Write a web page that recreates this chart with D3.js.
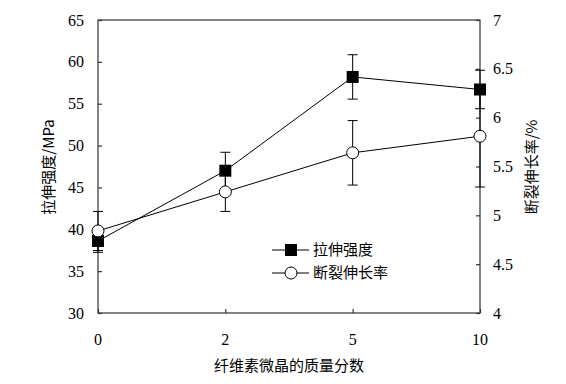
<!DOCTYPE html>
<meta charset="utf-8">
<style>
body, html { margin: 0; background: #fff; }
svg text.num { font-family: "Liberation Serif", "DejaVu Serif", serif; fill: #000; }
svg text.cjk { font-family: "Noto Sans CJK SC", sans-serif; fill: #000; }
</style>
<svg></svg>
<script src="https://d3js.org/d3.v7.min.js"></script>
<script>

var categories = ['0', '2', '5', '10'];
var strength = [38.6, 47.0, 58.2, 56.7];
var strengthErr = [1.35, 2.2, 2.65, 2.3];
var elongation = [4.84, 5.24, 5.64, 5.81];
var elongationErr = [0.2, 0.2, 0.33, 0.52];
var leftTicks = [30, 35, 40, 45, 50, 55, 60, 65];
var rightTicks = [4, 4.5, 5, 5.5, 6, 6.5, 7];

var margin = {top: 20, right: 86, bottom: 71, left: 98};
var width = 566 - margin.left - margin.right;
var height = 384 - margin.top - margin.bottom;

var svg = d3.select('svg')
  .attr('width', 566)
  .attr('height', 384)
  .append('g')
  .attr('transform', 'translate(' + margin.left + ',' + margin.top + ')');

var x = d3.scalePoint().domain(categories).range([0, width]);
var yL = d3.scaleLinear().domain([30, 65]).range([height, 0]);
var yR = d3.scaleLinear().domain([4, 7]).range([height, 0]);

// frame
svg.append('rect')
  .attr('width', width).attr('height', height)
  .attr('fill', 'none').attr('stroke', '#333').attr('stroke-width', 1.2);

// axes (ticks inward)
var axL = svg.append('g').call(d3.axisRight(yL).tickValues(leftTicks).tickSize(4).tickFormat(''));
var axR = svg.append('g').attr('transform', 'translate(' + width + ',0)')
  .call(d3.axisLeft(yR).tickValues(rightTicks).tickSize(4).tickFormat(''));
var axB = svg.append('g').attr('transform', 'translate(0,' + height + ')')
  .call(d3.axisTop(x).tickSize(4).tickFormat(''));
[axL, axR, axB].forEach(function (a) {
  a.select('.domain').remove();
  a.selectAll('line').attr('stroke', '#333').attr('stroke-width', 1.2);
});

var serif = '"Liberation Serif", "DejaVu Serif", serif';

// tick labels
svg.selectAll('.ll').data(leftTicks).enter().append('text').attr('class', 'num')
  .attr('x', -14).attr('y', function (d) { return yL(d); })
  .attr('dy', '0.35em').attr('text-anchor', 'end')
  .style('font-family', serif).style('font-size', '16px').text(function (d) { return d; });
svg.selectAll('.rl').data(rightTicks).enter().append('text').attr('class', 'num')
  .attr('x', width + 13).attr('y', function (d) { return yR(d); })
  .attr('dy', '0.35em').attr('text-anchor', 'start')
  .style('font-family', serif).style('font-size', '16px').text(function (d) { return d; });
svg.selectAll('.bl').data(categories).enter().append('text').attr('class', 'num')
  .attr('x', function (d) { return x(d); }).attr('y', height + 32)
  .attr('text-anchor', 'middle')
  .style('font-family', serif).style('font-size', '16px').text(function (d) { return d; });

// axis titles
svg.append('text').attr('class', 'cjk')
  .attr('transform', 'translate(' + (49 - margin.left + 5) + ',' + (167 - margin.top) + ') rotate(-90)')
  .attr('text-anchor', 'middle').style('font-size', '15px')
  .text('拉伸强度/MPa');
svg.append('text').attr('class', 'cjk')
  .attr('transform', 'translate(' + (533 - margin.left + 4) + ',' + (167 - margin.top) + ') rotate(-90)')
  .attr('text-anchor', 'middle').style('font-size', '15px')
  .text('断裂伸长率/%');
svg.append('text').attr('class', 'cjk')
  .attr('x', 289 - margin.left).attr('y', 371 - margin.top)
  .attr('text-anchor', 'middle').style('font-size', '15px')
  .text('纤维素微晶的质量分数');

function errorBars(vals, errs, y) {
  var g = svg.append('g').attr('stroke', '#000').attr('stroke-width', 1);
  vals.forEach(function (v, i) {
    var cx = x(categories[i]);
    var y0 = y(v - errs[i]), y1 = y(v + errs[i]);
    g.append('line').attr('x1', cx).attr('x2', cx).attr('y1', y0).attr('y2', y1);
    g.append('line').attr('x1', cx - 5).attr('x2', cx + 5).attr('y1', y0).attr('y2', y0);
    g.append('line').attr('x1', cx - 5).attr('x2', cx + 5).attr('y1', y1).attr('y2', y1);
  });
}

errorBars(elongation, elongationErr, yR);
errorBars(strength, strengthErr, yL);

var lineL = d3.line().x(function (d, i) { return x(categories[i]); }).y(function (d) { return yL(d); });
var lineR = d3.line().x(function (d, i) { return x(categories[i]); }).y(function (d) { return yR(d); });

svg.append('path').datum(elongation).attr('d', lineR)
  .attr('fill', 'none').attr('stroke', '#000').attr('stroke-width', 1);
svg.append('path').datum(strength).attr('d', lineL)
  .attr('fill', 'none').attr('stroke', '#000').attr('stroke-width', 1);

svg.selectAll('.sq').data(strength).enter().append('rect')
  .attr('x', function (d, i) { return x(categories[i]) - 6; })
  .attr('y', function (d) { return yL(d) - 6; })
  .attr('width', 12).attr('height', 12).attr('fill', '#000');
svg.selectAll('.ci').data(elongation).enter().append('circle')
  .attr('cx', function (d, i) { return x(categories[i]); })
  .attr('cy', function (d) { return yR(d); })
  .attr('r', 6).attr('fill', '#fff').attr('stroke', '#000').attr('stroke-width', 1);

// legend
var leg = svg.append('g').attr('transform', 'translate(' + (272 - margin.left) + ',' + (250 - margin.top) + ')');
leg.append('line').attr('x1', 0).attr('x2', 37).attr('y1', 0).attr('y2', 0).attr('stroke', '#000');
leg.append('rect').attr('x', 13).attr('y', -6).attr('width', 12).attr('height', 12).attr('fill', '#000');
leg.append('text').attr('class', 'cjk').attr('x', 41).attr('y', 0).attr('dy', '0.35em')
  .style('font-size', '15px').text('拉伸强度');
leg.append('line').attr('x1', 0).attr('x2', 37).attr('y1', 23).attr('y2', 23).attr('stroke', '#000');
leg.append('circle').attr('cx', 19).attr('cy', 23).attr('r', 6).attr('fill', '#fff').attr('stroke', '#000');
leg.append('text').attr('class', 'cjk').attr('x', 41).attr('y', 23).attr('dy', '0.35em')
  .style('font-size', '15px').text('断裂伸长率');

</script>
